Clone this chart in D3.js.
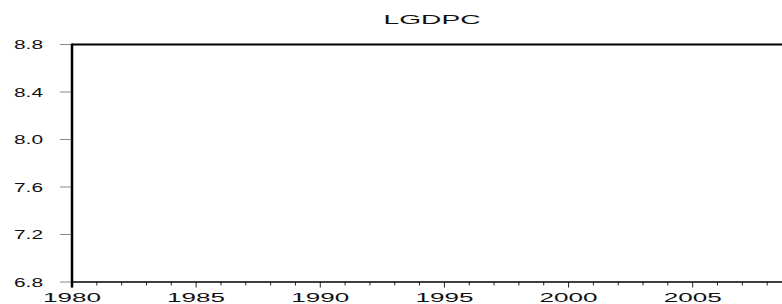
<!DOCTYPE html>
<html>
<head>
<meta charset="utf-8">
<script src="https://cdn.jsdelivr.net/npm/d3@7.9.0/dist/d3.min.js"></script>
<style>
  html, body { margin: 0; padding: 0; background: #fff; overflow: hidden; }
  svg { display: block; }
  text { font-family: "Liberation Sans", Arial, sans-serif; fill: #111; }
</style>
</head>
<body>
<svg id="chart" width="782" height="304"></svg>
<script>
const title = "LGDPC";
const yearRange = [1980, 2009];
const yearTicks = [1980, 1985, 1990, 1995, 2000, 2005];
const yTicks = [6.8, 7.2, 7.6, 8.0, 8.4, 8.8];
const yRange = [6.8, 8.8];

const svg = d3.select("#chart");
const width = 782, height = 304;
const plot = { left: 72, right: 792, top: 44.5, bottom: 282 };

const x = d3.scaleLinear().domain(yearRange).range([plot.left, plot.right]);
const y = d3.scaleLinear().domain(yRange).range([plot.bottom, plot.top]);

// title
svg.append("text")
  .attr("x", (plot.left + plot.right) / 2)
  .attr("y", 24)
  .attr("text-anchor", "middle")
  .attr("font-size", 13)
  .attr("textLength", 97)
  .attr("lengthAdjust", "spacingAndGlyphs")
  .text(title);

// y ticks
svg.selectAll(".ytick")
  .data(yTicks)
  .join("line")
  .attr("class", "ytick")
  .attr("x1", 60).attr("x2", plot.left)
  .attr("y1", (d) => y(d)).attr("y2", (d) => y(d))
  .attr("stroke", "#8a8a8a")
  .attr("stroke-width", 1);

svg.selectAll(".ylabel")
  .data(yTicks)
  .join("text")
  .attr("class", "ylabel")
  .attr("x", 43)
  .attr("y", (d) => y(d) + 4.5)
  .attr("text-anchor", "end")
  .attr("font-size", 12)
  .attr("textLength", 29)
  .attr("lengthAdjust", "spacingAndGlyphs")
  .text((d) => d3.format(".1f")(d));

// x ticks, minor every year, major every 5
const years = d3.range(yearRange[0], yearRange[1] + 1);
svg.selectAll(".xtick")
  .data(years)
  .join("line")
  .attr("class", "xtick")
  .attr("x1", (d) => x(d)).attr("x2", (d) => x(d))
  .attr("y1", plot.bottom)
  .attr("y2", (d) => plot.bottom + (d % 5 === 0 ? 5.5 : 3.5))
  .attr("stroke", "#222")
  .attr("stroke-width", 1);

svg.selectAll(".xlabel")
  .data(yearTicks)
  .join("text")
  .attr("class", "xlabel")
  .attr("x", (d) => x(d))
  .attr("y", 301.5)
  .attr("text-anchor", "middle")
  .attr("font-size", 12.5)
  .attr("textLength", 58)
  .attr("lengthAdjust", "spacingAndGlyphs")
  .text((d) => d);

// frame
svg.append("line")
  .attr("x1", plot.left).attr("x2", width)
  .attr("y1", plot.top).attr("y2", plot.top)
  .attr("stroke", "#000").attr("stroke-width", 2);

svg.append("line")
  .attr("x1", plot.left).attr("x2", width)
  .attr("y1", plot.bottom).attr("y2", plot.bottom)
  .attr("stroke", "#000").attr("stroke-width", 1.5);

svg.append("line")
  .attr("x1", plot.left).attr("x2", plot.left)
  .attr("y1", plot.top - 1).attr("y2", plot.bottom + 5.5)
  .attr("stroke", "#000").attr("stroke-width", 2.5);
</script>
</body>
</html>
